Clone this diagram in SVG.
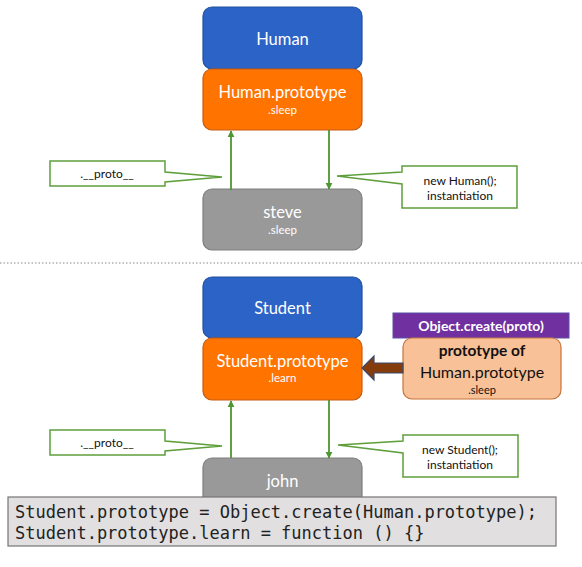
<svg xmlns="http://www.w3.org/2000/svg" width="582" height="567" viewBox="0 0 582 567">
<defs>
<style>
.t{font-family:Lato,"Liberation Sans",sans-serif;text-anchor:middle}
.w{fill:#fff}
.big{font-size:16.5px}
.sm{font-size:11.5px}
.blue{fill:#2B63C6;stroke:#22509E;stroke-width:1.2}
.orange{fill:#FF7400;stroke:#C85B12;stroke-width:1.2}
.gray{fill:#9A999A;stroke:#7E7E7E;stroke-width:1.2}
.call{fill:#fff;stroke:#5E9F3C;stroke-width:1.5}
.ct{font-size:12px;fill:#111}
.edge{stroke:#4E9632;stroke-width:1.8;fill:none}
.code{font-family:"DejaVu Sans Mono","Liberation Mono",monospace;font-size:17px;fill:#222}
</style>
<marker id="ah" viewBox="0 0 10 10" refX="9" refY="5" markerWidth="4" markerHeight="4" orient="auto">
<path d="M0,0 L10,5 L0,10 Z" fill="#4E9632"/>
</marker>
</defs>
<rect width="582" height="567" fill="#fff"/>

<!-- top section -->
<g id="human">
<rect class="blue" x="203" y="7" width="159" height="62" rx="9"/>
<text class="t w big" x="282.5" y="45">Human</text>
</g>
<g id="human-prototype">
<rect class="orange" x="203" y="69" width="159" height="61" rx="9"/>
<text class="t w big" x="282.5" y="98">Human.prototype</text>
<text class="t w sm" x="282.5" y="114">.sleep</text>
</g>
<g id="steve">
<rect class="gray" x="203" y="189" width="159" height="61" rx="9"/>
<text class="t w big" x="282.5" y="218">steve</text>
<text class="t w sm" x="282.5" y="234">.sleep</text>
</g>
<g id="proto-callout-1">
<path class="call" d="M50,161 H165 V172 L222,177 L165,182 V186 H50 Z"/>
<text class="t ct" x="107" y="178">.__proto__</text>
</g>
<g id="new-human-callout">
<path class="call" d="M402,166 H517 V208 H402 V184 L337,176 L402,172 Z"/>
<text class="t ct" x="460" y="185">new Human();</text>
<text class="t ct" x="460" y="200">instantiation</text>
</g>

<line x1="0" y1="263" x2="582" y2="263" stroke="#8A8A8A" stroke-width="1.2" stroke-dasharray="1.5 2"/>

<!-- bottom section -->
<g id="student">
<rect class="blue" x="203" y="277" width="159" height="61" rx="9"/>
<text class="t w big" x="282.5" y="314">Student</text>
</g>
<g id="student-prototype">
<rect class="orange" x="203" y="338" width="159" height="62" rx="9"/>
<text class="t w big" x="282.5" y="367">Student.prototype</text>
<text class="t w sm" x="282.5" y="382">.learn</text>
</g>
<g id="john">
<rect class="gray" x="203" y="458" width="159" height="61" rx="9"/>
<text class="t w big" x="282.5" y="487">john</text>
</g>
<g id="object-create">
<rect x="393" y="313" width="176" height="25" fill="#7030A0" stroke="#5A4FA8" stroke-width="1"/>
<text class="t w" x="481" y="331" font-size="14" font-weight="bold">Object.create(proto)</text>
</g>
<g id="prototype-of-human">
<rect x="403" y="338" width="158" height="61" rx="9" fill="#F9C198" stroke="#C7743A" stroke-width="1.2"/>
<text class="t" x="482" y="356" font-size="15.5" font-weight="bold" fill="#111">prototype of</text>
<text class="t" x="482" y="378" font-size="16" fill="#111">Human.prototype</text>
<text class="t" x="482" y="394" font-size="11" fill="#111">.sleep</text>
</g>
<g id="proto-callout-2">
<path class="call" d="M50,430 H165 V441 L222,446 L165,451 V455 H50 Z"/>
<text class="t ct" x="107" y="447">.__proto__</text>
</g>
<g id="new-student-callout">
<path class="call" d="M403,435 H518 V477 H403 V453 L338,445 L403,441 Z"/>
<text class="t ct" x="460" y="454">new Student();</text>
<text class="t ct" x="460" y="469">instantiation</text>
</g>

<g id="connectors">
<line class="edge" x1="231" y1="190" x2="231" y2="131" marker-end="url(#ah)"/>
<line class="edge" x1="329" y1="130" x2="329" y2="189" marker-end="url(#ah)"/>
<line class="edge" x1="231" y1="458" x2="231" y2="401" marker-end="url(#ah)"/>
<line class="edge" x1="329" y1="400" x2="329" y2="458" marker-end="url(#ah)"/>
<path d="M403,363 H374 V356 L362,368 L374,380 V373 H403 Z" fill="#843C0C" stroke="#3C4B6E" stroke-width="1.2"/>
</g>

<g id="code">
<rect x="8" y="497" width="548" height="49" fill="#E1DFDF" stroke="#767676" stroke-width="1.2"/>
<text class="code" x="15" y="518">Student.prototype = Object.create(Human.prototype);</text>
<text class="code" x="15" y="539">Student.prototype.learn = function () {}</text>
</g>
</svg>
